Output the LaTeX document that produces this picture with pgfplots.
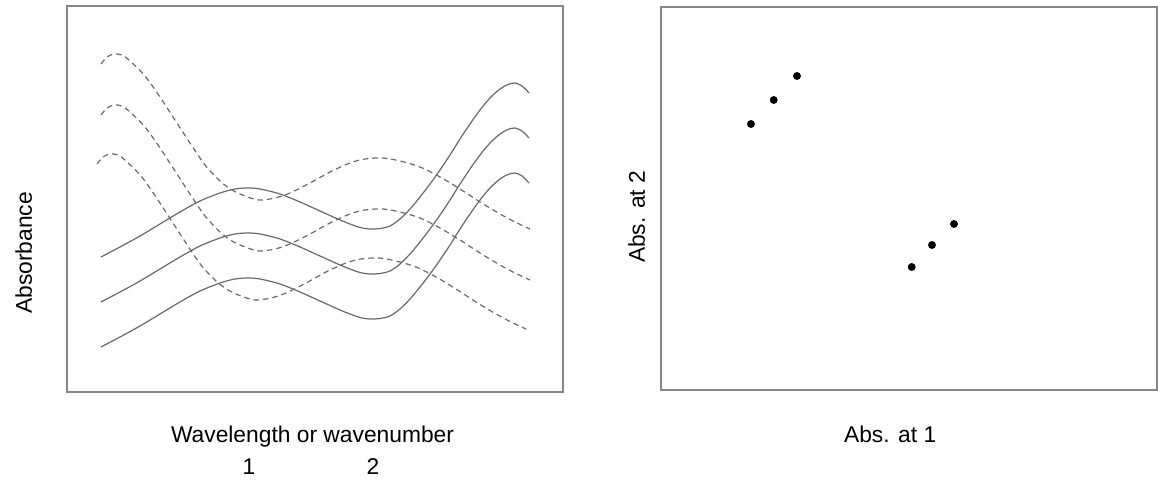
\documentclass[border=0pt]{standalone}
\usepackage{fontspec}
\setmainfont{Liberation Sans}
\usepackage{pgfplots}
\usepackage{pgfplotstable}
\pgfplotsset{compat=1.18}

\definecolor{framegray}{RGB}{135,135,135}
\definecolor{curvegray}{RGB}{105,105,105}

% Spectrum of the first component (solid): peak near wavelength 1, dip near 2
\pgfplotstableread{
x    y
101  135
120  145
140  156
160  168
180  180
200  191
220  199
235  203
248  204
260  203
280  198
300  190
320  181
340  172
350  168
360  164.5
370  163
380  163.5
390  166
400  173
410  183
420  195
430  208
440  222
450  237
460  253
470  268
480  282
490  294
500  303
508  307.5
515  309
522  306
529  299
}\solidA
\pgfplotstableread{
x    y
101  90
120  100
140  111
160  123
180  135
200  146
220  154
235  158
248  159
260  158
280  153
300  145
320  136
340  127
350  123
360  119.5
370  118
380  118.5
390  121
400  128
410  138
420  150
430  163
440  177
450  192
460  208
470  223
480  237
490  249
500  258
508  262.5
515  264
522  261
529  254
}\solidB
\pgfplotstableread{
x    y
101  45
120  55
140  66
160  78
180  90
200  101
220  109
235  113
248  114
260  113
280  108
300  100
320  91
340  82
350  78
360  74.5
370  73
380  73.5
390  76
400  83
410  93
420  105
430  118
440  132
450  147
460  163
470  178
480  192
490  204
500  213
508  217.5
515  219
522  216
529  209
}\solidC

% Spectrum of the second component (dashed): dip near wavelength 1, peak near 2
\pgfplotstableread{
x    y
101  328
107  335
114  338
122  337
130  331
145  316
160  295
175  272
190  249
205  227
220  211
232  202
245  196
259  192
275  194
290  199
310  209
330  220
350  229
365  233
383  234
400  231
420  225
440  215
460  203
480  190
500  178
515  170
530  163
}\dashA
\pgfplotstableread{
x    y
101  277
107  284
114  287
122  286
130  280
145  265
160  244
175  221
190  198
205  176
220  160
232  151
245  145
259  141
275  143
290  148
310  158
330  169
350  178
365  182
383  183
400  180
420  174
440  164
460  152
480  139
500  127
515  119
530  112
}\dashB
\pgfplotstableread{
x    y
97   228
103  235
110  238
118  237
126  231
141  216
156  195
171  172
186  149
201  127
216  111
228  102
241  96
255  92
271  94
286  99
306  109
326  120
346  129
361  133
379  134
396  131
416  125
436  115
456  103
476  90
496  78
511  70
526  63
}\dashC

% Absorbance at wavelength 1 versus absorbance at wavelength 2
\pgfplotstableread{
x      y
90     266
112.7  290
136    314
250.7  123
271    145
293    166
}\scatterpts

\pgfplotsset{
  panel/.style={
    scale only axis,
    anchor=south west,
    axis line style={framegray, line width=0.75pt},
    major tick length=0pt,
    font=\fontsize{11.4}{13.7}\selectfont,
    every axis x label/.style={anchor=base},
    every axis y label/.style={anchor=base, rotate=90},
  },
  solidcurve/.style={curvegray, line width=0.6pt, smooth, no marks},
  dashcurve/.style={curvegray, line width=0.6pt, smooth, no marks,
    dash pattern=on 2.75pt off 2pt},
}

\begin{document}
\begin{tikzpicture}
\path[use as bounding box] (0,0) rectangle (579pt,240.5pt);

\begin{axis}[panel,
  at={(33.5pt,44.5pt)}, width=248pt, height=193pt,
  xmin=67, xmax=563, ymin=0, ymax=386,
  xtick={249,373}, xticklabels={1,2}, ytick=\empty,
  xticklabel style={anchor=base, yshift=-41.5pt},
  xlabel={Wavelength or wavenumber},
  ylabel={Absorbance},
  x label style={at={(axis description cs:0.495,-0.132)}},
  y label style={at={(axis description cs:-0.0706,0.360)}},
]
\addplot[solidcurve] table {\solidA};
\addplot[solidcurve] table {\solidB};
\addplot[solidcurve] table {\solidC};
\addplot[dashcurve] table {\dashA};
\addplot[dashcurve] table {\dashB};
\addplot[dashcurve] table {\dashC};
\end{axis}

\begin{axis}[panel,
  at={(330.5pt,45.5pt)}, width=248pt, height=191.5pt,
  xmin=0, xmax=496, ymin=0, ymax=383,
  xtick=\empty, ytick=\empty,
  xlabel={Abs. at 1},
  ylabel={Abs. at 2},
  x label style={at={(axis description cs:0.462,-0.138)}},
  y label style={at={(axis description cs:-0.0323,0.452)}},
]
\addplot[only marks, mark=*, mark size=1.75pt, black] table {\scatterpts};
\end{axis}
\end{tikzpicture}
\end{document}
